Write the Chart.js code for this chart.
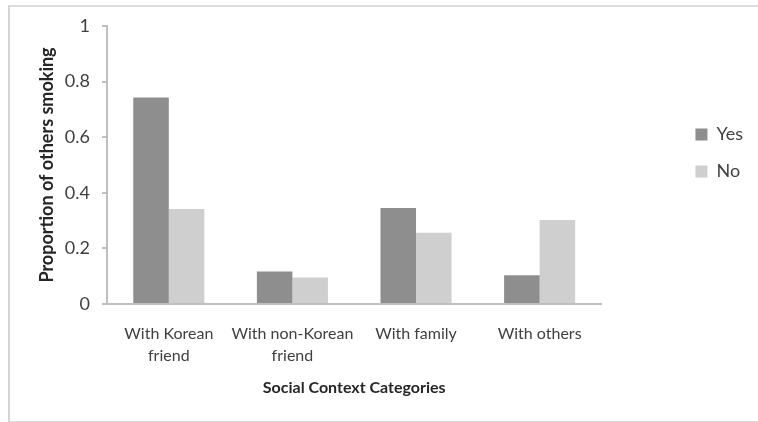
<!DOCTYPE html>
<html>
<head>
<meta charset="utf-8">
<script src="https://cdn.jsdelivr.net/npm/chart.js@4"></script>
<style>
  html, body { margin: 0; padding: 0; background: #fff; overflow: hidden; }
  #wrap { position: relative; width: 758px; height: 422px; }
  #frame {
    position: absolute; left: 8px; top: 5px; width: 800px; height: 414px;
    border-top: 2px solid #dcdcdc; border-left: 2px solid #d4d4d4; border-bottom: 2px solid #dcdcdc;
  }
  canvas { position: absolute; left: 0; top: 0; }
</style>
</head>
<body>
<div id="wrap">
  <div id="frame"></div>
  <canvas id="chart" width="758" height="422"></canvas>
</div>
<script>
// ---------- Data ----------
const categories = [["With Korean", "friend"], ["With non-Korean", "friend"], "With family", "With others"];
const yesValues = [0.743, 0.117, 0.345, 0.103];
const noValues = [0.342, 0.095, 0.256, 0.302];
const yTicks = [0, 0.2, 0.4, 0.6, 0.8, 1];

const FONT = "Lato, 'Open Sans', sans-serif";
const AXIS = "#bfbfbf";
const TXT = "#404040";

const ctx = document.getElementById("chart").getContext("2d");
new Chart(ctx, {
  type: "bar",
  data: {
    labels: categories,
    datasets: [
      { label: "Yes", data: yesValues, backgroundColor: "#8e8e8e" },
      { label: "No", data: noValues, backgroundColor: "#cfcfcf" }
    ]
  },
  options: {
    responsive: false,
    animation: false,
    layout: { padding: { left: 32, top: 26, right: 5, bottom: 20 } },
    datasets: { bar: { categoryPercentage: 0.575, barPercentage: 1 } },
    plugins: {
      tooltip: { enabled: false },
      legend: {
        position: "right",
        align: "start",
        title: { display: true, text: " ", padding: { top: 66, bottom: 0 } },
        labels: {
          boxWidth: 12, boxHeight: 12, padding: 19,
          color: TXT, font: { family: FONT, size: 18 }
        }
      }
    },
    scales: {
      x: {
        grid: { display: false },
        border: { color: AXIS, width: 2 },
        afterFit: s => { s.height = 98; },
        ticks: {
          color: TXT, font: { family: FONT, size: 16, lineHeight: 1.35 },
          padding: 11, maxRotation: 0, autoSkip: false
        },
        title: {
          display: true, text: "Social Context Categories", color: "#262626",
          font: { family: FONT, size: 16, weight: "bold" }, padding: { top: 10, bottom: 5 }
        }
      },
      y: {
        min: 0, max: 1,
        afterBuildTicks: s => { s.ticks = yTicks.map(v => ({ value: v })); },
        afterFit: s => { s.width = 75; },
        grid: { drawOnChartArea: false, tickLength: 5, color: AXIS, lineWidth: 2 },
        border: { color: AXIS, width: 2 },
        ticks: { color: TXT, font: { family: FONT, size: 18 }, padding: 12, callback: v => String(v) },
        title: {
          display: true, text: "Proportion of others smoking", color: "#262626",
          font: { family: FONT, size: 18, weight: "bold" }, padding: { bottom: 6 }
        }
      },
      // empty right-hand spacer that keeps the legend clear of the plot
      gap: {
        type: "linear", position: "right", display: true,
        grid: { display: false }, border: { display: false },
        ticks: { display: false },
        afterFit: s => { s.width = 75; }
      }
    }
  }
});
</script>
</body>
</html>
